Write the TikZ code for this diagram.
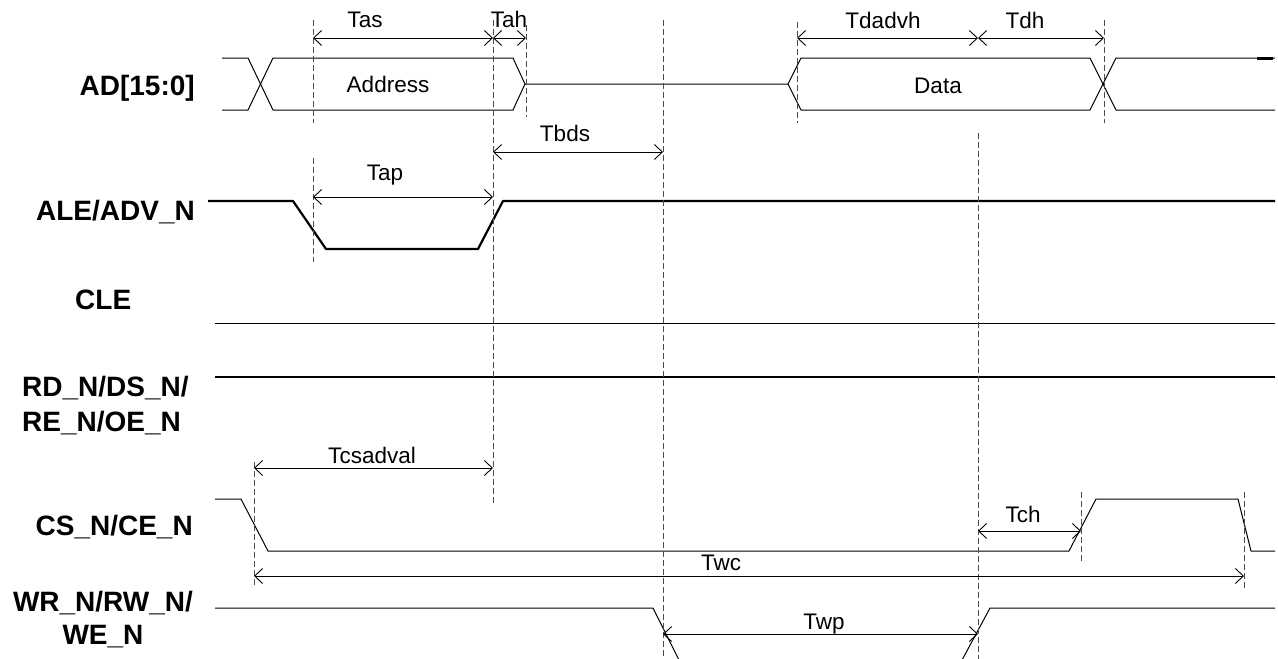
\documentclass[tikz,border=0pt]{standalone}
\usepackage{fontspec}
\setmainfont{Liberation Sans}
\usetikzlibrary{arrows.meta}
\begin{document}
\begin{tikzpicture}
[x=1pt,y=-1pt,
  sigThin/.style={line width=1pt,line join=round},
  sigThick/.style={line width=2.2pt,line join=round},
  markDecorate/.style={dash pattern=on 6pt off 3pt,line width=0.9pt,black!70},
  dimDecorate/.style={{Straight Barb[length=8pt,width=15pt]}-{Straight Barb[length=8pt,width=15pt]},line width=0.9pt},
  sigName/.style={font=\fontsize{28}{35}\selectfont\bfseries,inner sep=0pt},
  timeName/.style={font=\fontsize{22.5}{26}\selectfont,inner sep=0pt,anchor=base}]
\useasboundingbox (0,0) rectangle (1278,659);
%% signal names
\node[sigName,anchor=base east] (adName) at (195,95) {AD[15:0]};
\node[sigName,anchor=base east] (aleName) at (195,220) {ALE/ADV\_N};
\node[sigName,anchor=base west] (cleName) at (75,309) {CLE};
\node[sigName,anchor=north west,align=left] (rdName) at (22,376) {RD\_N/DS\_N/\\RE\_N/OE\_N};
\node[sigName,anchor=base east] (csName) at (193,535) {CS\_N/CE\_N};
\node[sigName,anchor=north,align=center,font=\fontsize{28}{33}\selectfont\bfseries] (wrName) at (103,591) {WR\_N/RW\_N/\\WE\_N};
%% waveforms
\draw[sigThin] (222,58) -- (248,58) -- (273,110) -- (513,110) -- (525,84) -- (788,84)
  -- (801,110) -- (1090,110) -- (1116,58) -- (1275,58);
\draw[sigThin] (222,110) -- (248,110) -- (273,58) -- (513,58) -- (525,84);
\draw[sigThin] (788,84) -- (801,58) -- (1090,58) -- (1116,110) -- (1275,110);
\draw[line width=2.5pt] (1257,58.5) -- (1273,58.5);
\draw[sigThick] (208,201) -- (293,201) -- (326,249) -- (478,249) -- (503,201) -- (1275,201);
\draw[sigThin] (215,323) -- (1275,323);
\draw[sigThick,line width=2pt] (215,377) -- (1275,377);
\draw[sigThin] (215,499) -- (241,499) -- (268,551) -- (1069,551) -- (1096,499)
  -- (1238,499) -- (1251,551) -- (1275,551);
\draw[sigThin] (215,608) -- (653,608) -- (680,662);
\draw[sigThin] (961,662) -- (990,608) -- (1275,608);
\node[timeName] (addrText) at (388,92) {Address};
\node[timeName] (dataText) at (938,93) {Data};
%% marker lines
\foreach \x/\ya/\yb in {
  313/20/123, 313/158/262, 493/20/503, 526/25/117, 663/20/659, 797/22/123,
  1104/20/123, 978/133/659, 254/462/588, 1081/492/563, 1244/492/588}
{
  \draw[markDecorate] (\x,\ya) -- (\x,\yb);
}
%% span ends
\foreach \name/\x/\y in {
  asL/313/38, asR/493/38, ahR/526/38, bdsL/493/152, bdsR/663/152,
  apL/313/197, apR/493/197, dvL/797/38, dvR/978/38, dhR/1104/38,
  csaL/254/468, csaR/493/468, chL/978/531, chR/1081/531,
  wcL/254/576, wcR/1244/576, wpL/663/634, wpR/978/634}
{
  \coordinate (\name) at (\x,\y);
}
\path
\foreach \startnode/\endnode in {
  asL/asR, asR/ahR, bdsL/bdsR, apL/apR, dvL/dvR, dvR/dhR,
  csaL/csaR, chL/chR, wcL/wcR, wpL/wpR}
{
  (\startnode) edge[dimDecorate] (\endnode)
};
%% span names
\foreach \name/\x/\y/\txt in {
  tas/365/27/Tas, tah/509/27/Tah, tbds/565/141/Tbds, tap/385/180/Tap,
  tdadvh/883/28/Tdadvh, tdh/1025/28/Tdh, tcsadval/372/463/Tcsadval,
  tch/1023/522/Tch, twc/721/570/Twc, twp/824/629/Twp}
{
  \node[timeName] (\name) at (\x,\y) {\txt};
}
\end{tikzpicture}
\end{document}
